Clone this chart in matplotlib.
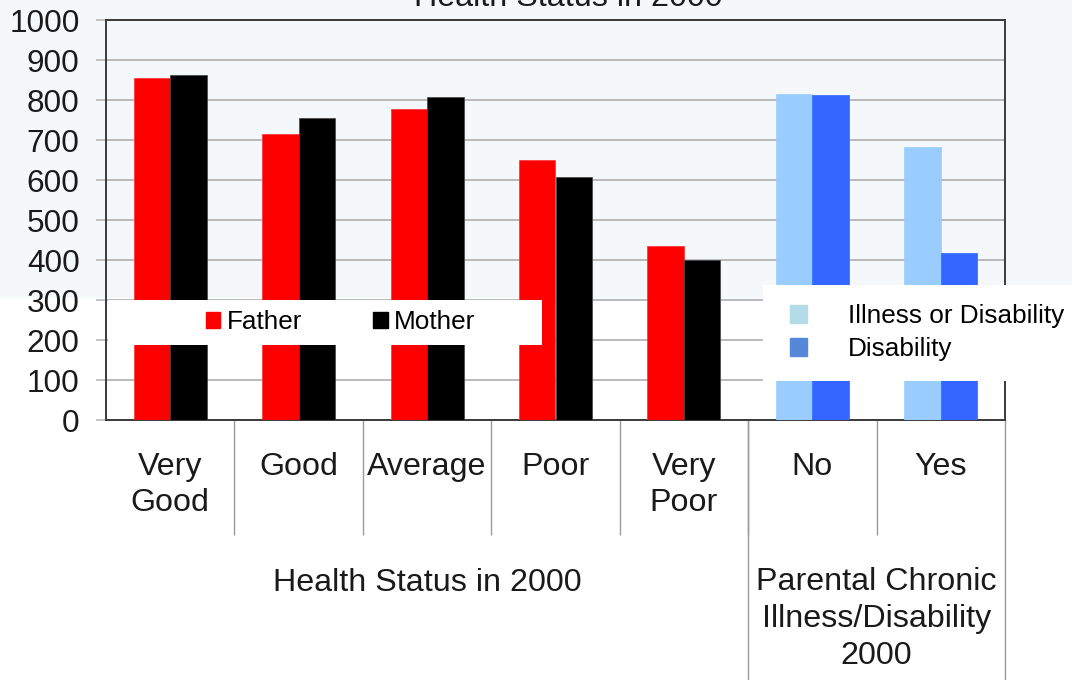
import numpy as np
import matplotlib
matplotlib.use('Agg')
import matplotlib.pyplot as plt
from matplotlib.patches import Rectangle, Patch
from matplotlib.lines import Line2D

plt.rcParams['font.family'] = ['Liberation Sans', 'DejaVu Sans']

# data
categories = ['Very\nGood', 'Good', 'Average', 'Poor', 'Very\nPoor', 'No', 'Yes']
father = [856, 714, 777, 651, 436]
mother = [862, 754, 808, 608, 401]
illness_or_disability = [815, 683]
disability = [812, 418]
group_labels = ['Health Status in 2000', 'Parental Chronic\nIllness/Disability\n2000']

W, H = 1072, 680
fig = plt.figure(figsize=(W / 100, H / 100), dpi=100)
fig.patch.set_facecolor('white')
# pale slide background over the upper part
fig.add_artist(Rectangle((0, 1 - 298 / H), 1, 298 / H, transform=fig.transFigure,
                         facecolor='#f5f8fb', edgecolor='none', zorder=-1))

ax = fig.add_axes([106 / W, (H - 420) / H, (1005 - 106) / W, 400 / H])
ax.set_facecolor('none')

x = np.arange(len(categories))
bw = 0.284
n1 = len(father)
ax.bar(x[:n1] - bw / 2, father, bw, color='#ff0000', edgecolor='#ff3030', lw=0.5, zorder=3)
ax.bar(x[:n1] + bw / 2, mother, bw, color='#000000', edgecolor='#444444', lw=0.5, zorder=3)
ax.bar(x[n1:] - bw / 2, illness_or_disability, bw, color='#99ccff', edgecolor='#99ccff', lw=0.5, zorder=3)
ax.bar(x[n1:] + bw / 2, disability, bw, color='#3366ff', edgecolor='#3366ff', lw=0.5, zorder=3)

ax.set_xlim(-0.5, len(categories) - 0.5)
ax.set_ylim(0, 1000)
ax.set_yticks(np.arange(0, 1001, 100))
ax.yaxis.grid(True, color='#b4b4b4', lw=1.3, zorder=1)
ax.set_axisbelow(True)
ax.tick_params(axis='y', length=7, width=1.1, color='#b4b4b4', pad=12,
               labelsize=22.7, labelcolor='#1a1a1a')
for s in ax.spines.values():
    s.set_color('#3a3a3a')
    s.set_linewidth(1.4)

big = 23.2
# category labels and separators
ax.set_xticks(x)
ax.set_xticklabels(categories, fontsize=big, color='#1a1a1a', linespacing=1.28)
ax.tick_params(axis='x', length=0, pad=23)
ax.set_xticks(np.arange(0.5, len(categories) - 1, 1.0), minor=True)
ax.tick_params(axis='x', which='minor', length=83, width=1.0, color='#999999')
trans = ax.get_xaxis_transform()
for xv in [n1 - 0.5, len(categories) - 0.5]:
    ax.add_line(Line2D([xv, xv], [0, -0.7], transform=trans, color='#999999',
                       lw=1.0, clip_on=False))

ax.text((n1 - 1) / 2, -0.4075, group_labels[0], transform=trans, ha='center',
        va='center', fontsize=big, color='#1a1a1a')
ax.text(n1 + (len(categories) - n1 - 1) / 2, -0.368, group_labels[1], transform=trans,
        ha='center', va='top', fontsize=big, color='#1a1a1a', linespacing=1.3)

# title cut off at the top, as in the source slide
fig.text(568 / W, 1 - 6 / H, 'Health Status in 2000', ha='center', va='baseline',
         fontsize=big, color='#1a1a1a')

# white legend boxes
def px_box(x0, x1, y0, y1):
    return Rectangle(((x0 - 106) / 899, (420 - y1) / 400), (x1 - x0) / 899, (y1 - y0) / 400,
                     transform=ax.transAxes, facecolor='white', edgecolor='none',
                     zorder=4, clip_on=False)

ax.add_patch(px_box(108, 542, 300, 345))
ax.add_patch(px_box(763, 1072, 285, 381))

fs = 18.8
leg1 = ax.legend([Patch(color='#ff0000'), Patch(color='#000000')], ['Father', 'Mother'],
                 loc='center left', bbox_to_anchor=(206 / W, 1 - 322 / H),
                 bbox_transform=fig.transFigure, ncol=2, frameon=False, fontsize=fs,
                 handlelength=0.55, handleheight=0.55, handletextpad=0.25,
                 columnspacing=2.72, borderpad=0, borderaxespad=0)
leg1.set_zorder(6)
ax.add_artist(leg1)
leg2 = ax.legend([Patch(color='#b3dbe8'), Patch(color='#5588d8')],
                 ['Illness or Disability', 'Disability'],
                 loc='upper left', bbox_to_anchor=(790 / W, 1 - 304 / H),
                 bbox_transform=fig.transFigure, frameon=False, fontsize=fs,
                 handlelength=0.66, handleheight=0.66, handletextpad=1.55,
                 labelspacing=0.36, borderpad=0, borderaxespad=0)
leg2.set_zorder(6)

fig.savefig('out.png', dpi=100, facecolor=fig.get_facecolor())
